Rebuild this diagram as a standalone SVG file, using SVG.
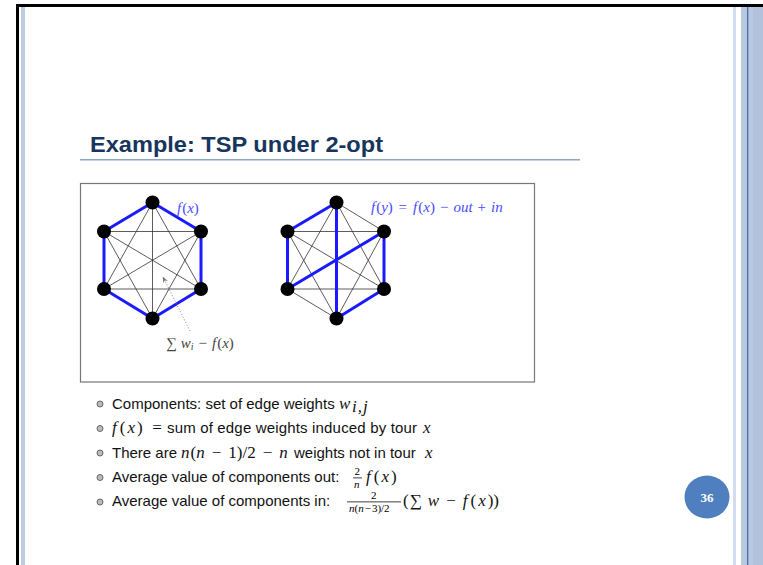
<svg xmlns="http://www.w3.org/2000/svg" width="763" height="565" viewBox="0 0 763 565">
<defs>
<style>
.tour{stroke:#1a1aff;stroke-width:3;stroke-linecap:round}
.thin{stroke:#333;stroke-width:0.8}
.node{fill:#000}
.lbl{font-family:"Liberation Serif",serif;font-style:italic;fill:#4a4aff;font-size:15px}
.up{font-style:normal}
.body{font-family:"Liberation Sans",sans-serif;font-size:15px;fill:#111}
.m{font-family:"Liberation Serif",serif;font-style:italic;font-size:17px;fill:#111}
.mu{font-family:"Liberation Serif",serif;font-style:normal;font-size:17px;fill:#111}
.bul{fill:#bbb;stroke:#666;stroke-width:1}
</style>
<marker id="arr" viewBox="0 0 10 10" refX="9" refY="5" markerWidth="7" markerHeight="7" orient="auto-start-reverse">
<path d="M0,1 L10,5 L0,9 L3,5 Z" fill="#777"/>
</marker>
</defs>
<rect width="763" height="565" fill="#fff"/>
<!-- page frame -->
<rect x="16" y="4" width="747" height="3" fill="#000"/>
<rect x="16" y="4" width="3" height="561" fill="#000"/>
<rect x="21" y="7" width="4" height="558" fill="#bccbe4"/>
<rect x="733" y="7" width="3" height="558" fill="#d3dbee"/>
<rect x="741" y="7" width="22" height="558" fill="#b8c8e0"/>
<rect x="747" y="7" width="1.3" height="558" fill="#4a6ea8"/>
<rect x="753" y="7" width="10" height="558" fill="#b2c2dc"/>
<!-- title -->
<text x="90" y="152" font-family="Liberation Sans, sans-serif" font-weight="bold" font-size="22" fill="#17365d" textLength="293" lengthAdjust="spacingAndGlyphs">Example: TSP under 2-opt</text>
<rect x="80" y="159" width="500" height="1.5" fill="#8ea6c6"/>
<!-- figure box -->
<rect x="80.5" y="183.5" width="454" height="198.5" fill="#fff" stroke="#777" stroke-width="1.2"/>
<g id="connectors">
<g id="g1-edges">
<line class="thin" x1="104" y1="231.5" x2="201" y2="231.5"/>
<line class="thin" x1="104" y1="289" x2="201" y2="289"/>
<line class="thin" x1="152.5" y1="202.5" x2="152.5" y2="318.5"/>
<line class="thin" x1="104" y1="231.5" x2="201" y2="289"/>
<line class="thin" x1="201" y1="231.5" x2="104" y2="289"/>
<line class="thin" x1="152.5" y1="202.5" x2="104" y2="289"/>
<line class="thin" x1="152.5" y1="202.5" x2="201" y2="289"/>
<line class="thin" x1="104" y1="231.5" x2="152.5" y2="318.5"/>
<line class="thin" x1="201" y1="231.5" x2="152.5" y2="318.5"/>
<line class="tour" x1="152.5" y1="202.5" x2="104" y2="231.5"/>
<line class="tour" x1="152.5" y1="202.5" x2="201" y2="231.5"/>
<line class="tour" x1="104" y1="231.5" x2="104" y2="289"/>
<line class="tour" x1="201" y1="231.5" x2="201" y2="289"/>
<line class="tour" x1="104" y1="289" x2="152.5" y2="318.5"/>
<line class="tour" x1="201" y1="289" x2="152.5" y2="318.5"/>
</g>
<g id="g2-edges">
<line class="thin" x1="336.5" y1="202.5" x2="384" y2="231.5"/>
<line class="thin" x1="336.5" y1="202.5" x2="287.5" y2="289"/>
<line class="thin" x1="336.5" y1="202.5" x2="384" y2="289"/>
<line class="thin" x1="287.5" y1="231.5" x2="384" y2="231.5"/>
<line class="thin" x1="287.5" y1="231.5" x2="384" y2="289"/>
<line class="thin" x1="287.5" y1="231.5" x2="336.5" y2="318.5"/>
<line class="thin" x1="287.5" y1="289" x2="384" y2="289"/>
<line class="thin" x1="287.5" y1="289" x2="336.5" y2="318.5"/>
<line class="thin" x1="384" y1="231.5" x2="336.5" y2="318.5"/>
<line class="tour" x1="336.5" y1="202.5" x2="287.5" y2="231.5"/>
<line class="tour" x1="287.5" y1="231.5" x2="287.5" y2="289"/>
<line class="tour" x1="287.5" y1="289" x2="384" y2="231.5"/>
<line class="tour" x1="384" y1="231.5" x2="384" y2="289"/>
<line class="tour" x1="384" y1="289" x2="336.5" y2="318.5"/>
<line class="tour" x1="336.5" y1="202.5" x2="336.5" y2="318.5"/>
</g>
<line id="annot" x1="190" y1="331" x2="163" y2="277" stroke="#777" stroke-width="0.9" stroke-dasharray="1,2" marker-end="url(#arr)"/>
</g>
<g id="g1-nodes">
<circle id="n1a" class="node" cx="152.5" cy="202.5" r="7"/>
<circle id="n1b" class="node" cx="104" cy="231.5" r="7"/>
<circle id="n1c" class="node" cx="201" cy="231.5" r="7"/>
<circle id="n1d" class="node" cx="104" cy="289" r="7"/>
<circle id="n1e" class="node" cx="201" cy="289" r="7"/>
<circle id="n1f" class="node" cx="152.5" cy="318.5" r="7"/>
</g>
<g id="g2-nodes">
<circle id="n2a" class="node" cx="336.5" cy="202.5" r="7"/>
<circle id="n2b" class="node" cx="287.5" cy="231.5" r="7"/>
<circle id="n2c" class="node" cx="384" cy="231.5" r="7"/>
<circle id="n2d" class="node" cx="287.5" cy="289" r="7"/>
<circle id="n2e" class="node" cx="384" cy="289" r="7"/>
<circle id="n2f" class="node" cx="336.5" cy="318.5" r="7"/>
</g>
<text class="lbl" x="177" y="213">f<tspan class="up" dx="1">(</tspan>x<tspan class="up">)</tspan></text>
<text class="lbl" x="371" y="212">f<tspan class="up" dx="1">(</tspan>y<tspan class="up">) </tspan><tspan class="up" dx="2">=</tspan><tspan dx="6">f</tspan><tspan class="up" dx="1">(</tspan>x<tspan class="up">)</tspan><tspan class="up" dx="5">−</tspan><tspan dx="5">out</tspan><tspan class="up" dx="5">+</tspan><tspan dx="5">in</tspan></text>
<text x="166" y="348" font-family="Liberation Serif, serif" font-size="15" fill="#444"><tspan>∑</tspan><tspan font-style="italic" dx="4">w</tspan><tspan font-style="italic" font-size="10" dy="2">i</tspan><tspan dy="-2" dx="5">−</tspan><tspan font-style="italic" dx="5">f</tspan><tspan dx="1">(</tspan><tspan font-style="italic">x</tspan>)</text>
<!-- bullets -->
<g id="bullets">
<circle class="bul" cx="100" cy="404" r="3"/>
<circle class="bul" cx="100" cy="428.5" r="3"/>
<circle class="bul" cx="100" cy="453" r="3"/>
<circle class="bul" cx="100" cy="477.5" r="3"/>
<circle class="bul" cx="100" cy="502" r="3"/>
</g>
<!-- line 1 -->
<text class="body" x="112" y="409">Components: set of edge weights</text>
<text class="m" x="339" y="409">w</text>
<text class="m" x="352" y="412" font-size="12" letter-spacing="1">i,j</text>
<!-- line 2 -->
<text class="m" x="112" y="433">f<tspan class="mu" dx="3">(</tspan><tspan dx="2">x</tspan><tspan class="mu" dx="2">)</tspan></text>
<text class="mu" x="157" y="433" text-anchor="middle">=</text>
<text class="body" x="167" y="433" textLength="250" lengthAdjust="spacing">sum of edge weights induced by tour</text>
<text class="m" x="423" y="433">x</text>
<!-- line 3 -->
<text class="body" x="112" y="458">There are</text>
<text class="m" x="181" y="458">n<tspan class="mu" dx="1">(</tspan>n<tspan class="mu" dx="7">−</tspan><tspan class="mu" dx="7">1)/2</tspan><tspan class="mu" dx="7">−</tspan><tspan dx="7">n</tspan></text>
<text class="body" x="294" y="458">weights not in tour</text>
<text class="m" x="425" y="458">x</text>
<!-- line 4 -->
<text class="body" x="112" y="482">Average value of components out:</text>
<text x="354.5" y="475" font-family="Liberation Serif, serif" font-size="11">2</text>
<rect x="353" y="477.5" width="9" height="0.8" fill="#111"/>
<text x="354" y="488" font-family="Liberation Serif, serif" font-style="italic" font-size="11">n</text>
<text class="m" x="366" y="482">f<tspan class="mu" dx="3">(</tspan><tspan dx="2">x</tspan><tspan class="mu" dx="2">)</tspan></text>
<!-- line 5 -->
<text class="body" x="112" y="506">Average value of components in:</text>
<text x="371" y="499" font-family="Liberation Serif, serif" font-size="11">2</text>
<rect x="347" y="501.5" width="54" height="0.8" fill="#111"/>
<text x="349" y="512" font-family="Liberation Serif, serif" font-size="11"><tspan font-style="italic">n</tspan>(<tspan font-style="italic">n</tspan><tspan dx="1">−</tspan><tspan dx="1">3)/2</tspan></text>
<text class="mu" x="403" y="506" font-size="18">(<tspan dx="1">∑</tspan><tspan class="m" font-size="18" dx="6">w</tspan><tspan dx="7">−</tspan><tspan class="m" font-size="18" dx="7">f</tspan><tspan dx="3">(</tspan><tspan class="m" font-size="18" dx="2">x</tspan><tspan dx="2">))</tspan></text>
<!-- page number -->
<g id="pagenum">
<ellipse cx="707" cy="497" rx="22.5" ry="21.5" fill="#4f7fbf"/>
<text x="707" y="502" text-anchor="middle" font-family="Liberation Serif, serif" font-weight="bold" font-size="13" fill="#fff">36</text>
</g>
</svg>
